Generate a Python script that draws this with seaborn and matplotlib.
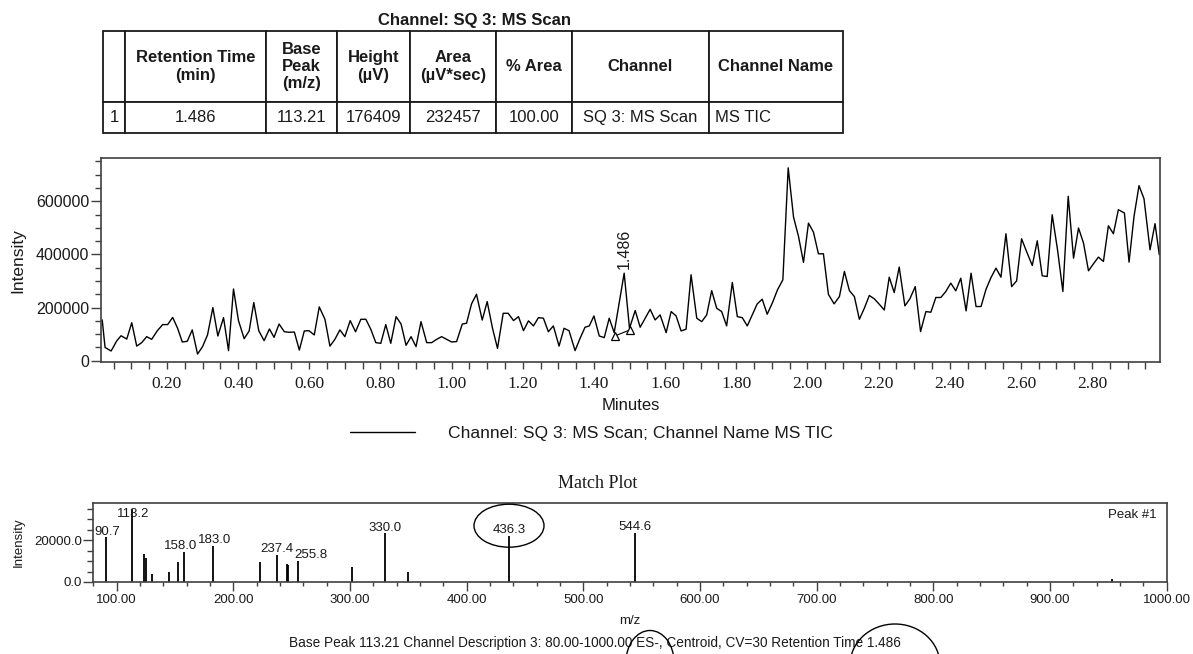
import numpy as np
import pandas as pd
import matplotlib
matplotlib.use("Agg")
import matplotlib.pyplot as plt
import seaborn as sns
from matplotlib.patches import Ellipse
from matplotlib.ticker import MultipleLocator, FormatStrFormatter

# ---------------- data ----------------
table_title = "Channel: SQ 3: MS Scan"
table_columns = ["", "Retention Time\n(min)", "Base\nPeak\n(m/z)", "Height\n(\u00b5V)",
                 "Area\n(\u00b5V*sec)", "% Area", "Channel", "Channel Name"]
table_row = ["1", "1.486", "113.21", "176409", "232457", "100.00", "SQ 3: MS Scan", "MS TIC"]

tic_time = [0.018, 0.026, 0.043, 0.059, 0.071, 0.087, 0.101, 0.115, 0.129, 0.143,
            0.157, 0.173, 0.188, 0.202, 0.216, 0.230, 0.243, 0.257, 0.271, 0.286,
            0.300, 0.314, 0.329, 0.343, 0.359, 0.373, 0.387, 0.401, 0.417, 0.431,
            0.444, 0.458, 0.473, 0.488, 0.501, 0.515, 0.530, 0.544, 0.558, 0.572,
            0.586, 0.599, 0.614, 0.628, 0.644, 0.658, 0.672, 0.686, 0.700, 0.715,
            0.730, 0.745, 0.759, 0.773, 0.787, 0.801, 0.815, 0.829, 0.844, 0.858,
            0.872, 0.886, 0.900, 0.914, 0.930, 0.944, 0.958, 0.972, 0.986, 1.000,
            1.014, 1.030, 1.042, 1.056, 1.070, 1.086, 1.100, 1.115, 1.129, 1.145,
            1.159, 1.174, 1.188, 1.202, 1.216, 1.230, 1.244, 1.258, 1.272, 1.286,
            1.302, 1.316, 1.330, 1.347, 1.361, 1.375, 1.387, 1.400, 1.415, 1.429,
            1.443, 1.457, 1.485, 1.500, 1.516, 1.530, 1.544, 1.558, 1.572, 1.586,
            1.603, 1.617, 1.631, 1.645, 1.659, 1.673, 1.689, 1.703, 1.717, 1.731,
            1.745, 1.759, 1.773, 1.789, 1.803, 1.817, 1.831, 1.845, 1.859, 1.873,
            1.887, 1.902, 1.916, 1.931, 1.946, 1.961, 1.975, 1.989,
            2.003, 2.017, 2.031, 2.045, 2.059, 2.075, 2.090, 2.104, 2.118, 2.132,
            2.146, 2.160, 2.174, 2.188, 2.202, 2.216, 2.230, 2.244, 2.258, 2.274,
            2.288, 2.303, 2.318, 2.333, 2.347, 2.361, 2.375, 2.389, 2.403, 2.417,
            2.431, 2.446, 2.460, 2.474, 2.488, 2.502, 2.516, 2.530, 2.544, 2.558,
            2.574, 2.588, 2.602, 2.616, 2.632, 2.646, 2.660, 2.674, 2.688, 2.703,
            2.718, 2.733, 2.748, 2.762, 2.776, 2.790, 2.804, 2.818, 2.832, 2.846,
            2.860, 2.874, 2.891, 2.904, 2.918, 2.932, 2.946, 2.963, 2.977, 2.989]
tic_intensity = [153500, 50000, 36500, 75000, 94000, 81500, 143000, 55000, 68000, 90500,
                 80500, 113000, 136000, 136000, 163000, 122000, 70500, 73000, 116000, 25000,
                 53000, 97000, 200000, 93000, 162000, 38000, 270000, 151000, 83000, 112000,
                 219000, 113000, 75500, 119500, 88000, 138000, 109000, 107000, 108000, 40000,
                 112000, 113000, 97000, 202500, 156000, 55000, 80500, 116000, 90500, 151000,
                 109000, 156000, 156000, 118000, 68000, 65500, 136000, 65500, 166000, 138000,
                 58000, 90500, 53000, 147000, 68000, 68000, 80500, 90500, 80500, 70500,
                 72000, 138000, 141000, 214000, 250000, 153000, 222500, 122000, 46500, 178500,
                 178500, 151000, 166000, 113000, 150000, 131000, 162000, 160000, 109000, 131000,
                 55000, 122000, 113000, 38000, 84000, 126000, 131000, 168500, 93000, 87000,
                 160000, 105500, 329500, 122000, 189000, 126000, 160000, 193500, 153500, 172500,
                 105500, 185000, 168500, 112000, 118500, 323500, 160000, 147000, 172500, 264000,
                 197500, 185000, 131000, 294500, 166000, 162000, 131000, 172500, 214000, 231500,
                 175000, 219000, 267000, 304500, 726000, 541000, 468000, 370000,
                 518000, 484000, 402500, 402500, 250000, 214000, 241500, 336000, 264000, 241500,
                 156000, 197500, 245500, 233000, 212500, 191000, 314500, 256500, 352500, 206500,
                 233000, 279000, 109500, 185000, 182500, 238000, 238000, 260500, 292000, 263000,
                 310500, 187500, 329500, 204000, 204000, 269000, 313000, 348500, 314500, 478000,
                 279000, 300500, 459000, 411000, 358500, 451500, 319500, 317000, 549500, 417500,
                 260500, 619000, 386000, 499500, 443000, 338500, 365000, 390000, 373500, 508000,
                 478000, 568500, 556000, 371000, 543500, 659000, 610000, 417500, 516000, 399000]

peak_rt = 1.486
peak_label = "1.486"
baseline_time = [1.459, 1.501]
baseline_intensity = [93200, 115800]
legend_label = "Channel: SQ 3: MS Scan; Channel Name MS TIC"

ms_mz = [90.7, 113.2, 123.6, 125.3, 130.1, 145.3, 153.0, 158.0, 183.0, 222.7,
         237.4, 246.4, 247.3, 255.8, 301.5, 330.0, 349.8, 436.3, 544.6, 953.0]
ms_intensity = [21300, 35000, 13200, 11300, 3900, 5000, 9600, 14300, 17200, 9600,
                12900, 8500, 8200, 10100, 7100, 23150, 4900, 21900, 23500, 1400]
ms_label_mz = [90.7, 113.2, 158.0, 183.0, 237.4, 255.8, 330.0, 436.3, 544.6]
ms_label_text = ["90.7", "113.2", "158.0", "183.0", "237.4", "255.8", "330.0", "436.3", "544.6"]

caption = ("Base Peak 113.21 Channel Description 3: 80.00-1000.00 ES-, Centroid, "
           "CV=30 Retention Time 1.486")

# ---------------- style ----------------
sns.set_theme(style="ticks")
SANS = ["Liberation Sans", "DejaVu Sans"]
SERIF = ["Liberation Serif", "DejaVu Serif"]
plt.rcParams["font.family"] = SANS
plt.rcParams["axes.edgecolor"] = "#404040"
plt.rcParams["axes.linewidth"] = 1.2
TXT = "#1a1a1a"

W, H, DPI = 1193, 654, 100
fig = plt.figure(figsize=(W / DPI, H / DPI), dpi=DPI)
fig.patch.set_facecolor("white")


def fx(px):
    return px / W


def fy(py):
    return 1 - py / H


# ---------------- table ----------------
ax_tab = fig.add_axes([fx(103), fy(133), fx(843) - fx(103), fy(31) - fy(133)])
ax_tab.axis("off")
col_w = [22, 141, 71, 73, 86, 76, 137, 134]
tab = ax_tab.table(cellText=[table_row], colLabels=table_columns, cellLoc="center",
                   colLoc="center", colWidths=col_w, bbox=[0, 0, 1, 1])
tab.auto_set_font_size(False)
tab.set_fontsize(12)
for (r, c), cell in tab.get_celld().items():
    cell.set_height(71 if r == 0 else 31)
    cell.set_edgecolor("#1a1a1a")
    cell.set_linewidth(1.3)
    cell.get_text().set_color(TXT)
    if r == 0:
        cell.get_text().set_fontweight("bold")
        cell.get_text().set_linespacing(1.2)
last = tab[1, 7]
last._loc = "left"
last.PAD = 0.045
last.get_text().set_horizontalalignment("left")
fig.text(fx(474), fy(21), table_title, ha="center", va="center", fontsize=12,
         fontweight="bold", color=TXT)

# ---------------- chromatogram ----------------
ax1 = fig.add_axes([fx(101), fy(362.3), (1160 - 101) / W, (362.3 - 158.3) / H])
df_tic = pd.DataFrame({"Minutes": tic_time, "Intensity": tic_intensity})
sns.lineplot(data=df_tic, x="Minutes", y="Intensity", ax=ax1, color="black", lw=1.0,
             estimator=None, sort=False, label=legend_label)
ax1.plot(baseline_time, baseline_intensity, color="black", lw=0.8, marker="^",
         mfc="white", mec="black", ms=6, mew=0.9)
i_pk = int(np.argmin(np.abs(np.array(tic_time) - peak_rt)))
ax1.annotate(peak_label, xy=(peak_rt, tic_intensity[i_pk]), xytext=(0, 3),
             textcoords="offset points", rotation=90, ha="center", va="bottom",
             fontsize=11.5, color=TXT)
ax1.set_xlim(0.0146, 2.991)
ax1.set_ylim(-6000, 762000)
ax1.xaxis.set_major_locator(MultipleLocator(0.2))
ax1.xaxis.set_minor_locator(MultipleLocator(0.05))
ax1.xaxis.set_major_formatter(FormatStrFormatter("%.2f"))
ax1.yaxis.set_major_locator(MultipleLocator(200000))
ax1.yaxis.set_minor_locator(MultipleLocator(50000))
ax1.yaxis.set_major_formatter(FormatStrFormatter("%d"))
ax1.tick_params(axis="x", which="both", direction="out", length=4.7, width=1.0,
                color="#404040", pad=5, labelsize=12.5, labelcolor=TXT,
                labelfontfamily="Liberation Serif")
ax1.tick_params(axis="y", which="major", direction="out", length=7.4, width=1.0,
                color="#404040", pad=1, labelsize=11.5, labelcolor=TXT)
ax1.tick_params(axis="y", which="minor", direction="out", length=4.3, width=1.0,
                color="#404040")
ax1.set_xlabel("")
ax1.set_ylabel("")
for s in ax1.spines.values():
    s.set_visible(True)
handles, labels = ax1.get_legend_handles_labels()
ax1.get_legend().remove()
fig.legend(handles[:1], labels[:1], loc="center left", bbox_to_anchor=(fx(350), fy(433)),
           frameon=False, handlelength=3.7, handletextpad=1.9, borderpad=0,
           borderaxespad=0, fontsize=12.6, labelcolor=TXT)
fig.text(fx(18.3), fy(260.7), "Intensity", rotation=90, ha="center", va="center",
         fontsize=12.5, color=TXT)
fig.text(fx(631), fy(405), "Minutes", ha="center", va="center", fontsize=12, color=TXT)

# ---------------- match plot ----------------
ax2 = fig.add_axes([fx(93.3), fy(582), (1166.7 - 93.3) / W, (582 - 502.7) / H])
ax2.vlines(ms_mz, 0, ms_intensity, color="black", lw=1.3)
label_dx = [1.0, 1.0, -2.4, 0.5, 0.0, 8.8, 0.0, 0.0, 0.0]
label_dy = [2.0, -6.0, 2.5, 2.0, 2.0, 2.0, 2.0, 2.0, 2.0]
for mz, txt, dx, dy in zip(ms_label_mz, ms_label_text, label_dx, label_dy):
    inten = ms_intensity[ms_mz.index(mz)]
    ax2.annotate(txt, xy=(mz, inten), xytext=(dx, dy), textcoords="offset points",
                 ha="center", va="baseline", fontsize=9.5, color=TXT)
ax2.set_xlim(80, 1000)
ax2.set_ylim(0, 37800)
ax2.xaxis.set_major_locator(MultipleLocator(100))
ax2.xaxis.set_minor_locator(MultipleLocator(20))
ax2.xaxis.set_major_formatter(FormatStrFormatter("%.2f"))
ax2.yaxis.set_major_locator(MultipleLocator(20000))
ax2.yaxis.set_minor_locator(MultipleLocator(5000))
ax2.yaxis.set_major_formatter(FormatStrFormatter("%.1f"))
ax2.tick_params(axis="x", which="major", direction="out", length=6.5, width=1.0,
                color="#404040", pad=2, labelsize=9.5, labelcolor=TXT)
ax2.tick_params(axis="x", which="minor", direction="out", length=3.2, width=1.0,
                color="#404040")
ax2.tick_params(axis="y", which="major", direction="out", length=7.2, width=1.0,
                color="#404040", pad=1, labelsize=9.5, labelcolor=TXT)
ax2.tick_params(axis="y", which="minor", direction="out", length=4.3, width=1.0,
                color="#404040")
for s in ax2.spines.values():
    s.set_visible(True)
ax2.text(0.991, 0.845, "Peak #1", transform=ax2.transAxes, ha="right", va="center",
         fontsize=9.5, color=TXT)
fig.text(fx(598), fy(484), "Match Plot", ha="center", va="center", fontsize=13,
         family=SERIF, color=TXT)
fig.text(fx(18.3), fy(542), "Intensity", rotation=90, ha="center", va="center",
         fontsize=9.5, color=TXT)
fig.text(fx(630), fy(621), "m/z", ha="center", va="center", fontsize=9.5, color=TXT)
fig.text(fx(595), fy(642.7), caption, ha="center", va="center", fontsize=9.8, color=TXT)

# ---------------- hand-drawn marks (ellipses) ----------------
ax_ov = fig.add_axes([0, 0, 1, 1], zorder=10)
ax_ov.set_xlim(0, W)
ax_ov.set_ylim(H, 0)
ax_ov.axis("off")
ax_ov.patch.set_alpha(0)
for (cx, cy, ew, eh) in [(509, 525.7, 70, 43), (650, 662, 48, 63), (895, 665, 90, 82)]:
    ax_ov.add_patch(Ellipse((cx, cy), ew, eh, fill=False, ec="black", lw=1.0))

fig.savefig("out.png", dpi=DPI, facecolor="white")
